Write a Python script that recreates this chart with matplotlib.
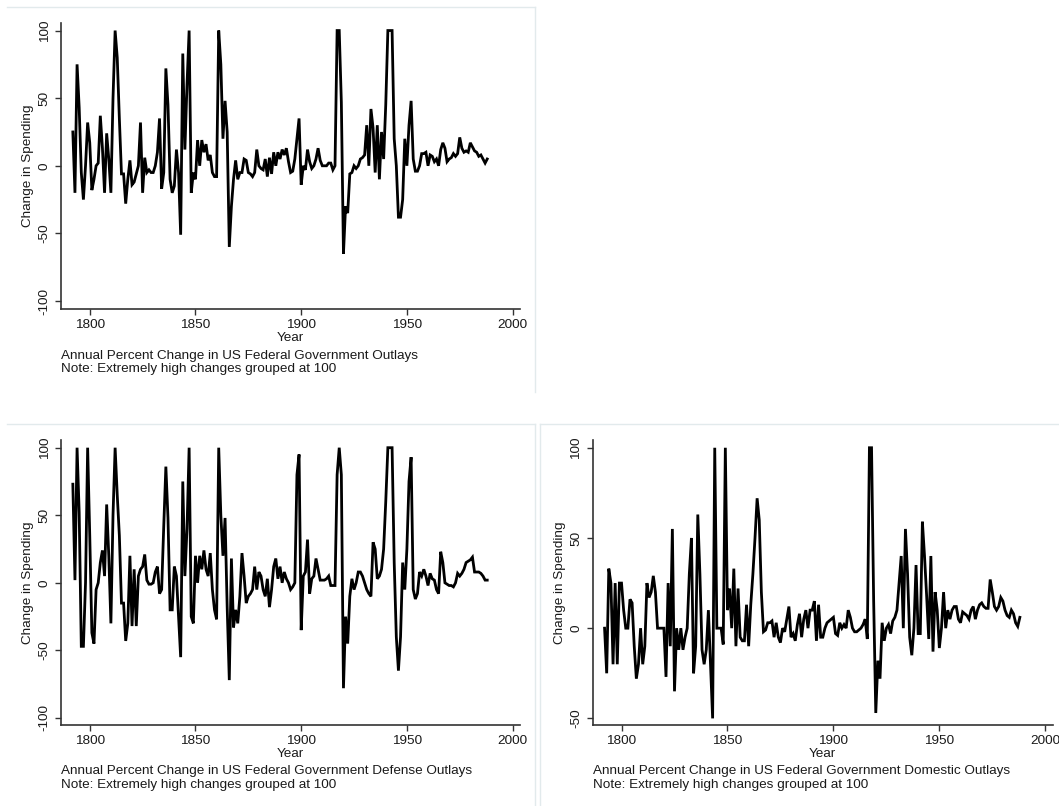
import numpy as np
import matplotlib
matplotlib.use("Agg")
import matplotlib.pyplot as plt
from matplotlib.lines import Line2D

plt.rcParams['font.family'] = ['Liberation Sans', 'DejaVu Sans']

# annual percent change, 1792-1988, extreme values grouped at 100
total = [25, -20, 75, 43, -5, -25, 0, 32,
         17, -18, -10, 0, 2, 37, 13, -20, 24, 5,
         -20, 50, 100, 80, 35, -6, -6, -28, -10, 4,
         -14, -12, -6, 0, 32, -20, 6, -5, -3, -5,
         -5, 0, 10, 35, -17, -5, 72, 45, -10, -20,
         -15, 12, -5, -51, 83, 12, 60, 100, -20, -5,
         -10, 19, 0, 19, 10, 16, 4, 8, -5, -8,
         -8, 100, 75, 20, 48, 25, -60, -30, -10, 4,
         -10, -5, -5, 5, 4, -5, -6, -8, -5, 12,
         0, -2, -3, 5, -8, 6, -6, 10, 0, 10,
         5, 12, 8, 13, 3, -5, -4, 5, 20, 35,
         -14, 0, -3, 12, 3, -2, 0, 5, 13, 4,
         0, 0, 0, 2, 2, -3, 0, 100, 100, 47,
         -65, -30, -35, -6, -5, 0, -2, 0, 5, 6,
         8, 30, 0, 42, 28, -5, 30, -10, 25, 5,
         45, 100, 100, 100, 20, 0, -38, -38, -25, 20,
         0, 30, 48, 5, -4, -4, 0, 9, 9, 10,
         0, 8, 7, 3, 5, 0, 12, 17, 13, 3,
         5, 6, 9, 7, 9, 21, 13, 10, 11, 10,
         17, 14, 11, 10, 7, 8, 5, 2, 5]

defense = [73, 2, 100, 52, -47, -47, 0, 100,
           35, -37, -45, -5, 0, 15, 24, 5, 58, 20,
           -30, 50, 100, 65, 35, -15, -15, -43, -30, 20,
           -32, 10, -32, 5, 10, 12, 21, 2, -1, -1,
           0, 8, 12, -8, -5, 42, 86, 48, -20, -20,
           12, 5, -25, -55, 75, 5, 40, 100, -25, -30,
           20, 0, 20, 10, 24, 10, 5, 22, -5, -20,
           -27, 100, 50, 20, 48, -18, -72, 18, -33, -20,
           -30, -10, 22, 5, -15, -10, -8, -5, 12, -5,
           8, 5, -5, -10, 3, -18, -5, 12, 18, 3,
           12, 0, 8, 3, 0, -5, -3, 0, 80, 95,
           -35, 5, 8, 32, -8, 3, 5, 18, 10, 2,
           2, 2, 3, 5, -2, -2, -2, 80, 100, 80,
           -78, -25, -45, -10, 3, -5, 0, 8, 8, 5,
           0, -5, -8, -10, 30, 25, 3, 5, 10, 25,
           60, 100, 100, 100, 15, -40, -65, -40, 15, -5,
           25, 75, 93, -5, -12, -8, 8, 5, 10, 5,
           -2, 7, 3, 2, -5, -8, 23, 15, 0, -1,
           -2, -2, -3, 0, 7, 5, 7, 10, 15, 16,
           17, 19, 8, 8, 8, 7, 5, 2, 2]

domestic = [0, -25, 33, 25, -20, 25, -20, 25,
            25, 10, 0, 0, 16, 14, -10, -28, -20, 0,
            -20, -10, 25, 17, 20, 29, 20, 0, 0, 0,
            0, -27, 25, -10, 55, -35, 0, -12, 0, -12,
            -5, 0, 30, 50, -25, -10, 63, 30, -12, -20,
            -12, 10, -20, -50, 100, 0, 0, 0, -9, 100,
            10, 22, 0, 33, -10, 22, -5, -7, -7, 13,
            -10, 13, 30, 50, 72, 60, 20, -2, -1, 3,
            3, 4, -5, 3, -5, -8, 0, -2, 5, 12,
            -5, -3, -7, 2, 8, -5, 5, 10, 0, 10,
            10, 15, -7, 13, -5, -5, 0, 3, 4, 5,
            6, -3, -4, 3, 0, 2, 0, 10, 6, 0,
            -2, -2, -1, 0, 2, 5, -6, 100, 100, 15,
            -47, -18, -28, 3, -7, 0, 2, -3, 4, 6,
            10, 25, 40, 0, 55, 30, -5, -15, 0, 35,
            -3, -3, 59, 40, 18, -6, 40, -13, 20, 10,
            -11, 0, 20, 0, 10, 5, 10, 12, 12, 5,
            3, 9, 8, 7, 5, 10, 12, 5, 10, 13,
            14, 12, 11, 11, 27, 20, 12, 10, 12, 17,
            15, 10, 7, 6, 10, 8, 3, 1, 6]

start_year = 1792
x_ticks = [1800, 1850, 1900, 1950, 2000]
yticks_full = [-100, -50, 0, 50, 100]
yticks_dom = [-50, 0, 50, 100]

captions = ["Annual Percent Change in US Federal Government Outlays",
            "Annual Percent Change in US Federal Government Defense Outlays",
            "Annual Percent Change in US Federal Government Domestic Outlays"]
note = "Note: Extremely high changes grouped at 100"

W, H = 1059, 806
fig = plt.figure(figsize=(W / 100, H / 100), dpi=100)
fig.patch.set_facecolor('white')

def px(x0, y0, x1, y1):
    # pixel box (top-left origin) -> figure fraction rect
    return [x0 / W, 1 - y1 / H, (x1 - x0) / W, (y1 - y0) / H]

fs = 9.7
txt = '#1a1a1a'

def panel(rect, vals, yticks, ylim, caption):
    ax = fig.add_axes(rect)
    years = np.arange(start_year, start_year + len(vals))
    ax.plot(years, vals, color='black', lw=2.0, solid_joinstyle='miter')
    ax.set_xlim(1786.4, 2003.5)
    ax.set_ylim(*ylim)
    ax.set_xticks(x_ticks)
    ax.set_xticklabels([str(t) for t in x_ticks], fontsize=fs, color=txt)
    ax.set_yticks(yticks)
    ax.set_yticklabels([str(t) for t in yticks], fontsize=fs, color=txt,
                       rotation=90, va='center')
    for s in ['top', 'right']:
        ax.spines[s].set_visible(False)
    for s in ['left', 'bottom']:
        ax.spines[s].set_linewidth(1.2)
        ax.spines[s].set_color('#333333')
    ax.tick_params(direction='out', length=4.5, width=1.0, color='#333333', pad=3)
    ax.set_xlabel('Year', fontsize=fs, color=txt, labelpad=0.5)
    ax.set_ylabel('Change in Spending', fontsize=fs, color=txt, labelpad=3)
    ax.text(0.0, -0.163, caption, transform=ax.transAxes, fontsize=fs,
            color=txt, ha='left', va='center')
    ax.text(0.0, -0.211, note, transform=ax.transAxes, fontsize=fs,
            color=txt, ha='left', va='center')
    return ax

panel(px(61, 22.7, 520, 309), total, yticks_full, (-105.9, 105.8), captions[0])
panel(px(61, 440, 520, 724.7), defense, yticks_full, (-105, 105.7), captions[1])
panel(px(592.7, 440, 1052.7, 724.7), domestic, yticks_dom, (-53.5, 104.3), captions[2])

# faint panel borders
border = '#e2eaec'
def seg(x0, y0, x1, y1):
    fig.add_artist(Line2D([x0 / W, x1 / W], [1 - y0 / H, 1 - y1 / H],
                          color=border, lw=1.0, transform=fig.transFigure))

seg(7, 7, 535, 7)
seg(535, 7, 535, 392)
seg(7, 424, 535, 424)
seg(535, 424, 535, 806)
seg(540, 424, 1059, 424)
seg(540, 424, 540, 806)

fig.savefig('out.png', dpi=100)
